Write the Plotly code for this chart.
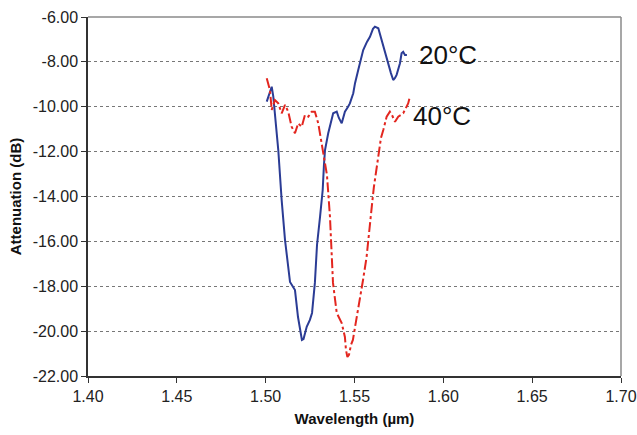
import plotly.graph_objects as go

# 20°C curve (blue, solid)
wl_20 = [1.5006, 1.5034, 1.5043, 1.5062, 1.5071, 1.5090, 1.5109, 1.5137, 1.5154, 1.5165,
         1.5182, 1.5196, 1.5204, 1.5213, 1.5231, 1.5249, 1.5261, 1.5277, 1.5289, 1.5306,
         1.5321, 1.5328, 1.5334, 1.5352, 1.5367, 1.5380, 1.5400, 1.5412, 1.5428, 1.5446,
         1.5463, 1.5474, 1.5493, 1.5503, 1.5521, 1.5549, 1.5570, 1.5587, 1.5604, 1.5615,
         1.5634, 1.5649, 1.5662, 1.5677, 1.5690, 1.5705, 1.5718, 1.5728, 1.5737, 1.5756,
         1.5765, 1.5774, 1.5784, 1.5795]
att_20 = [-9.77, -9.11, -9.55, -11.04, -11.93, -14.16, -15.94, -17.81, -18.02, -18.17,
          -19.37, -20.17, -20.39, -20.35, -19.81, -19.50, -19.19, -17.85, -16.16, -14.91,
          -13.71, -12.60, -11.93, -11.18, -10.68, -10.29, -10.22, -10.50, -10.74, -10.22,
          -10.01, -9.85, -9.40, -8.95, -8.36, -7.47, -7.11, -6.88, -6.53, -6.43,
          -6.50, -6.94, -7.32, -7.78, -8.06, -8.50, -8.81, -8.72, -8.58, -8.06,
          -7.62, -7.55, -7.69, -7.69]

# 40°C curve (red, dash-dot)
wl_40 = [1.5006, 1.5024, 1.5034, 1.5041, 1.5052, 1.5071, 1.5090, 1.5109, 1.5127, 1.5146,
         1.5165, 1.5183, 1.5203, 1.5221, 1.5240, 1.5259, 1.5277, 1.5296, 1.5315, 1.5334,
         1.5345, 1.5362, 1.5379, 1.5400, 1.5412, 1.5428, 1.5446, 1.5452, 1.5460, 1.5469,
         1.5480, 1.5491, 1.5508, 1.5531, 1.5548, 1.5568, 1.5581, 1.5597, 1.5609, 1.5625,
         1.5634, 1.5649, 1.5662, 1.5671, 1.5681, 1.5699, 1.5711, 1.5728, 1.5746, 1.5761,
         1.5774, 1.5784, 1.5802, 1.5812]
att_40 = [-8.73, -9.25, -10.14, -9.92, -9.70, -9.85, -10.29, -9.92, -10.22, -10.89,
          -11.18, -10.74, -10.89, -10.37, -10.44, -10.22, -10.22, -10.74, -11.63, -12.37,
          -13.04, -14.91, -17.85, -19.19, -19.41, -19.64, -20.26, -20.84, -21.15, -21.06,
          -20.62, -20.39, -19.59, -18.61, -17.72, -16.70, -15.58, -14.47, -13.58, -12.68,
          -12.02, -11.39, -11.04, -10.68, -10.44, -10.22, -10.37, -10.67, -10.44, -10.37,
          -10.29, -10.14, -9.85, -9.55]

x_ticks = [1.40, 1.45, 1.50, 1.55, 1.60, 1.65, 1.70]
x_ticklabels = ["1.40", "1.45", "1.50", "1.55", "1.60", "1.65", "1.70"]
y_ticks = [-22, -20, -18, -16, -14, -12, -10, -8, -6]
y_ticklabels = ["-22.00", "-20.00", "-18.00", "-16.00", "-14.00", "-12.00", "-10.00", "-8.00", "-6.00"]

labels = ["20°C", "40°C"]
label_x = [1.5851, 1.5820]
label_y = [-7.69, -10.41]

fig = go.Figure()
fig.add_trace(go.Scatter(x=wl_20, y=att_20, mode="lines", name=labels[0],
                         line=dict(color="#2b3c95", width=2)))
fig.add_trace(go.Scatter(x=wl_40, y=att_40, mode="lines", name=labels[1],
                         line=dict(color="#e3261f", width=2, dash="10px,3px,3px,3px")))

for t, lx, ly in zip(labels, label_x, label_y):
    fig.add_annotation(x=lx, y=ly, xref="x", yref="y", text=t, showarrow=False,
                       xanchor="left", yanchor="middle",
                       font=dict(family="Liberation Sans, Arial", size=26, color="#111"))

tick_font = dict(family="Liberation Sans, Arial", size=16, color="#222")
title_font = dict(family="Liberation Sans, Arial", size=15, color="#111")

fig.update_layout(
    width=637, height=435,
    margin=dict(l=88, r=16, t=17, b=59),
    paper_bgcolor="white", plot_bgcolor="white",
    showlegend=False,
    font=tick_font,
    xaxis=dict(range=[1.40, 1.70], tickvals=x_ticks, ticktext=x_ticklabels,
               automargin=False,
               showgrid=False, zeroline=False, showline=True, linecolor="#333",
               linewidth=1.5, ticks="outside", ticklen=5, tickcolor="#333",
               tickfont=tick_font,
               title=dict(text="<b>Wavelength (µm)</b>", font=title_font, standoff=10)),
    yaxis=dict(range=[-22, -6], tickvals=y_ticks, ticktext=y_ticklabels,
               automargin=False,
               showgrid=True, gridcolor="#777", griddash="dot", gridwidth=1,
               zeroline=False, showline=True, linecolor="#333", linewidth=1.5,
               ticks="outside", ticklen=5, tickcolor="#333", tickfont=tick_font,
               title=dict(text="<b>Attenuation (dB)</b>", font=title_font, standoff=7)),
)

# lighter top and right plot border
fig.add_shape(type="line", xref="paper", yref="paper", x0=0, x1=1, y0=1, y1=1,
              line=dict(color="#8a8a8a", width=1.5))
fig.add_shape(type="line", xref="paper", yref="paper", x0=1, x1=1, y0=0, y1=1,
              line=dict(color="#8a8a8a", width=1.5))

fig.write_html("out.html")
